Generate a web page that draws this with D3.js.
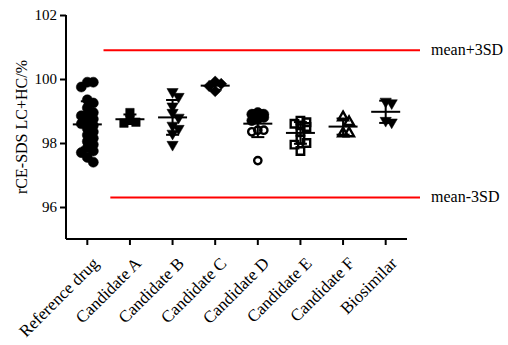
<!DOCTYPE html>
<html>
<head>
<meta charset="utf-8">
<script src="https://cdn.jsdelivr.net/npm/d3@7/dist/d3.min.js"></script>
<style>
  html, body { margin: 0; padding: 0; background: #fff; }
  svg { display: block; }
  svg text { font-family: "Liberation Serif", "Times New Roman", serif; fill: #000; }
</style>
</head>
<body>
<svg id="chart" width="508" height="345"></svg>
<script>
// Purity by rCE-SDS (LC+HC, %) for each lot group
const categories = ["Reference drug", "Candidate A", "Candidate B", "Candidate C",
                    "Candidate D", "Candidate E", "Candidate F", "Biosimilar"];

const referenceDrug = [99.9, 99.9, 99.75, 99.35, 99.25, 99.1, 98.95, 98.9, 98.85, 98.75,
                       98.65, 98.6, 98.55, 98.45, 98.35, 98.25, 98.15, 98.05, 97.95, 97.85,
                       97.75, 97.7, 97.55, 97.4];
const candidateA = [98.95, 98.75, 98.65, 98.62];
const candidateB = [99.6, 99.45, 99.15, 98.95, 98.8, 98.55, 98.45, 98.3, 97.95];
const candidateC = [99.92, 99.85, 99.78, 99.62];
const candidateDFilled = [98.95, 98.9, 98.9, 98.85, 98.8, 98.8, 98.75, 98.7];
const candidateDOpen = [98.4, 98.35, 98.4, 97.45];
const candidateE = [98.7, 98.65, 98.6, 98.55, 98.5, 98.35, 98.1, 98.0, 97.95, 97.75];
const candidateF = [98.8, 98.65, 98.3, 98.3];
const biosimilar = [99.3, 99.25, 98.7, 98.65];

const yTicks = [96, 98, 100, 102];
const limitLabels = ["mean+3SD", "mean-3SD"];
const limitValues = [100.9, 96.3];

// Marker styles per group
const groups = [
  { cat: categories[0], sets: [{ values: referenceDrug, symbol: d3.symbolCircle, size: 80, open: false }] },
  { cat: categories[1], sets: [{ values: candidateA, symbol: d3.symbolSquare, size: 72, open: false }] },
  { cat: categories[2], sets: [{ values: candidateB, symbol: d3.symbolTriangle, size: 55, open: false, flip: true }] },
  { cat: categories[3], sets: [{ values: candidateC, symbol: d3.symbolDiamond2, size: 80, open: false }] },
  { cat: categories[4], sets: [
      { values: candidateDFilled, symbol: d3.symbolCircle, size: 80, open: false },
      { values: candidateDOpen, symbol: d3.symbolCircle, size: 42, open: true }] },
  { cat: categories[5], sets: [{ values: candidateE, symbol: d3.symbolSquare, size: 56, open: true }] },
  { cat: categories[6], sets: [{ values: candidateF, symbol: d3.symbolTriangle, size: 42, open: true }] },
  { cat: categories[7], sets: [{ values: biosimilar, symbol: d3.symbolTriangle, size: 55, open: false, flip: true }] }
];

const svg = d3.select("#chart");
const plot = { left: 66, right: 407, top: 15, bottom: 239 };

const x = d3.scaleBand().domain(categories).range([plot.left, plot.right]);
const y = d3.scaleLinear().domain([95, 102]).range([plot.bottom, plot.top]);
const cx = c => x(c) + x.bandwidth() / 2;

// Reference limits (red lines)
const limitStart = [x(categories[0]) + x.bandwidth() * 0.88, x(categories[0]) + x.bandwidth() * 1.04];
const limitEnd = plot.right + 13;
limitValues.forEach((v, i) => {
  svg.append("line")
    .attr("x1", limitStart[i]).attr("x2", limitEnd)
    .attr("y1", y(v)).attr("y2", y(v))
    .attr("stroke", "#ff0000").attr("stroke-width", 2);
  svg.append("text")
    .attr("x", limitEnd + 11).attr("y", y(v) + 5)
    .attr("font-size", 16)
    .text(limitLabels[i]);
});

// Simple deterministic swarm so coincident values spread sideways
function swarm(points, minDist, step, maxOff) {
  const order = d3.range(points.length).sort((a, b) => points[a].py - points[b].py);
  const placed = [];
  order.forEach(i => {
    const p = points[i];
    let best = 0, bestD = -1;
    for (let k = 0; k * step <= maxOff; k++) {
      const cands = k === 0 ? [0] : [k * step, -k * step];
      for (const o of cands) {
        let d = Infinity;
        placed.forEach(q => { d = Math.min(d, Math.hypot(q.off - o, q.py - p.py)); });
        if (d >= minDist) { best = o; bestD = Infinity; break; }
        if (d > bestD) { bestD = d; best = o; }
      }
      if (bestD === Infinity) break;
    }
    p.off = best;
    placed.push(p);
  });
}

const marks = svg.append("g");
const bars = svg.append("g");

groups.forEach(g => {
  const center = cx(g.cat);
  const pts = [];
  g.sets.forEach(s => s.values.forEach(v => pts.push({ v, py: y(v), s })));
  swarm(pts, 6, 3, 8);

  pts.forEach(p => {
    const s = p.s;
    marks.append("path")
      .attr("d", d3.symbol(s.symbol, s.size)())
      .attr("transform", `translate(${center + p.off},${p.py})` + (s.flip ? " rotate(180)" : ""))
      .attr("fill", s.open ? "none" : "#000")
      .attr("stroke", "#000")
      .attr("stroke-width", s.open ? 2.4 : 0.5);
  });

  // Mean with SD error bar
  const all = pts.map(p => p.v);
  const m = d3.mean(all), sd = d3.deviation(all);
  bars.append("line").attr("x1", center - 14.5).attr("x2", center + 14.5)
    .attr("y1", y(m)).attr("y2", y(m));
  bars.append("line").attr("x1", center).attr("x2", center)
    .attr("y1", y(m - sd)).attr("y2", y(m + sd));
  [m - sd, m + sd].forEach(v => {
    bars.append("line").attr("x1", center - 6.5).attr("x2", center + 6.5)
      .attr("y1", y(v)).attr("y2", y(v));
  });
});
bars.selectAll("line").attr("stroke", "#000").attr("stroke-width", 2);

// Axes
const yAxis = svg.append("g")
  .attr("transform", `translate(${plot.left},0)`)
  .call(d3.axisLeft(y).tickValues(yTicks).tickFormat(d3.format("d"))
        .tickSize(6).tickPadding(3).tickSizeOuter(0));
yAxis.select(".domain").attr("d", `M0,${plot.top}V${plot.bottom}`);

const xAxis = svg.append("g")
  .attr("transform", `translate(0,${plot.bottom})`)
  .call(d3.axisBottom(x).tickSize(6).tickSizeOuter(0));

[yAxis, xAxis].forEach(a => {
  a.attr("font-family", null);
  a.select(".domain").attr("stroke", "#000").attr("stroke-width", 2);
  a.selectAll(".tick line").attr("stroke", "#000").attr("stroke-width", 2);
});
yAxis.attr("font-size", 15);
xAxis.attr("font-size", 17);
xAxis.select(".domain").attr("d", `M${plot.left},0H${plot.right}`);
xAxis.selectAll("text")
  .attr("text-anchor", "end")
  .attr("dy", null)
  .attr("transform", "translate(6,19) rotate(-45)");

// Y axis title
svg.append("text")
  .attr("transform", `translate(27,${(plot.top + plot.bottom) / 2}) rotate(-90)`)
  .attr("text-anchor", "middle")
  .attr("font-size", 16)
  .text("rCE-SDS LC+HC/%");
</script>
</body>
</html>
